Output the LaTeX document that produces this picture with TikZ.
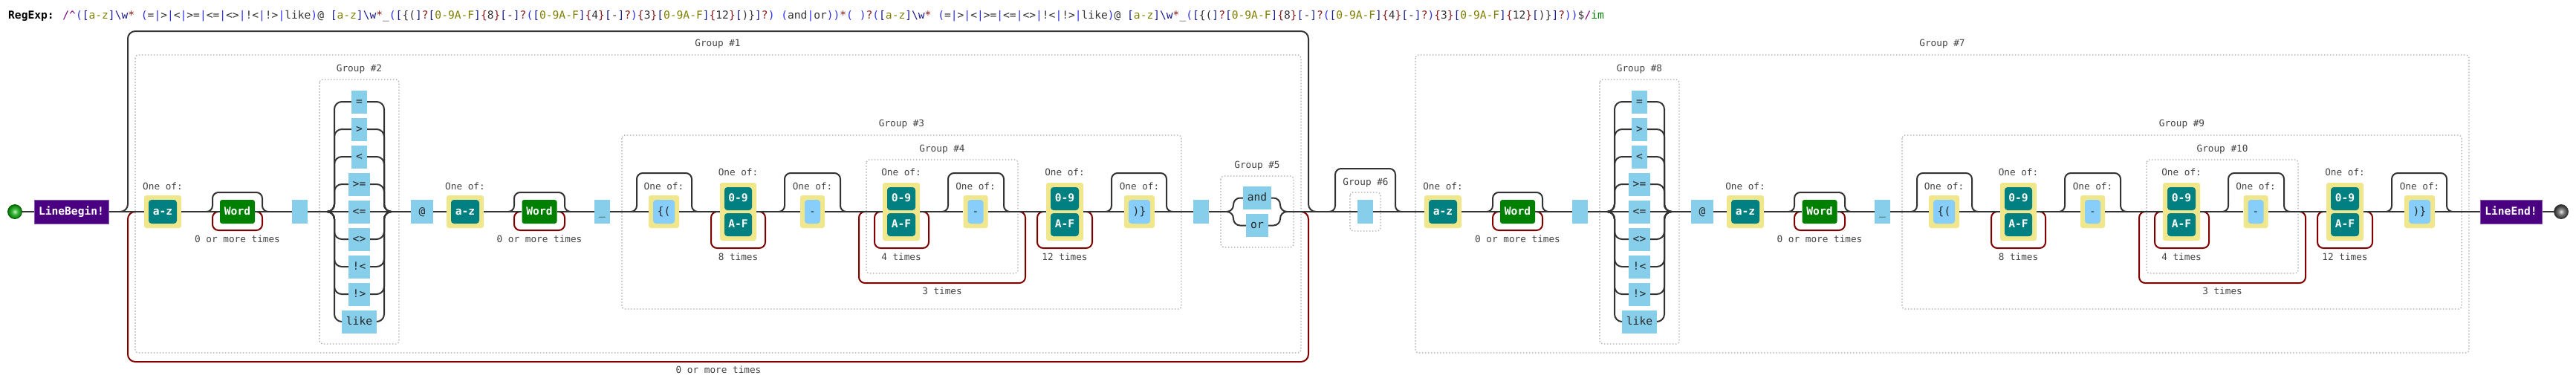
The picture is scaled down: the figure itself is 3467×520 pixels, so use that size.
\documentclass[tikz,border=0pt]{standalone}
\usepackage{fontspec}
\setmainfont{DejaVu Sans Mono}
\usetikzlibrary{calc}

\definecolor{lc}{HTML}{333333}
\definecolor{loopc}{HTML}{800000}
\definecolor{grpc}{HTML}{A8A8A8}
\definecolor{litc}{HTML}{87CEEB}
\definecolor{chc}{HTML}{87CEFA}
\definecolor{clsc}{HTML}{F0E68C}
\definecolor{rngc}{HTML}{008080}
\definecolor{wordc}{HTML}{008000}
\definecolor{asrtc}{HTML}{4B0082}
\definecolor{lblc}{HTML}{444444}
\definecolor{rxslash}{HTML}{800080}
\definecolor{rxparen}{HTML}{3030F0}
\definecolor{rxbrack}{HTML}{1A1A8C}
\definecolor{rxrange}{HTML}{808000}
\definecolor{rxquant}{HTML}{8B1A1A}
\definecolor{rxlit}{HTML}{333333}
\definecolor{rxflag}{HTML}{008000}

\pgfdeclareradialshading{stsh}{\pgfpointorigin}{rgb(0bp)=(0.75,0.95,0.75); rgb(10bp)=(0.25,0.72,0.25); rgb(25bp)=(0.0,0.45,0.0); rgb(50bp)=(0.0,0.45,0.0)}
\pgfdeclareradialshading{ensh}{\pgfpointorigin}{rgb(0bp)=(0.92,0.92,0.92); rgb(10bp)=(0.5,0.5,0.5); rgb(25bp)=(0.15,0.15,0.15); rgb(50bp)=(0.15,0.15,0.15)}

\newcommand\fsz[1]{\fontsize{#1}{#1}\selectfont}
\newcommand\rxS[1]{\textcolor{rxslash}{#1}}
\newcommand\rxP[1]{\textcolor{rxparen}{#1}}
\newcommand\rxB[1]{\textcolor{rxbrack}{#1}}
\newcommand\rxR[1]{\textcolor{rxrange}{#1}}
\newcommand\rxQ[1]{\textcolor{rxquant}{#1}}
\newcommand\rxL[1]{\textcolor{rxlit}{#1}}
\newcommand\rxF[1]{\textcolor{rxflag}{#1}}
\newcommand\rxhead{\rxB{[}\rxR{a-z}\rxB{]\textbackslash w}\rxQ{*}\rxL{\ }\rxP{(}\rxL{=}\rxP{|}\rxL{>}\rxP{|}\rxL{<}\rxP{|}\rxL{>=}\rxP{|}\rxL{<=}\rxP{|}\rxL{<>}\rxP{|}\rxL{!<}\rxP{|}\rxL{!>}\rxP{|}\rxL{like}\rxP{)}\rxL{@\ }\rxB{[}\rxR{a-z}\rxB{]\textbackslash w}\rxQ{*}\rxL{\_}}
\newcommand\rxgrp{\rxP{(}\rxB{[}\rxL{\{(}\rxB{]}\rxQ{?}\rxB{[}\rxR{0-9A-F}\rxB{]}\rxQ{\{}\rxL{8}\rxQ{\}}\rxB{[}\rxL{-}\rxB{]}\rxQ{?}\rxP{(}\rxB{[}\rxR{0-9A-F}\rxB{]}\rxQ{\{}\rxL{4}\rxQ{\}}\rxB{[}\rxL{-}\rxB{]}\rxQ{?}\rxP{)}\rxQ{\{}\rxL{3}\rxQ{\}}\rxB{[}\rxR{0-9A-F}\rxB{]}\rxQ{\{}\rxL{12}\rxQ{\}}\rxB{[}\rxL{)\}}\rxB{]}\rxQ{?}\rxP{)}}

\tikzset{
  rail/.style={draw=lc, line width=2pt},
  ralt/.style={draw=lc, line width=2pt, rounded corners=10pt},
  rskip/.style={draw=lc, line width=2pt, rounded corners=8pt},
  rloop/.style={draw=loopc, line width=2pt, rounded corners=8pt},
  grp/.style={draw=grpc, line width=1.2pt, dash pattern=on 1.5pt off 2.5pt, rounded corners=4pt},
  lbl/.style={text=lblc, font=\fsz{12.7}, inner sep=0pt, text height=9.5pt, text depth=2.5pt},
  boxbase/.style={inner sep=0pt, minimum height=32pt, font=\fsz{14.6}, text height=11.5pt, text depth=3pt},
  lit/.style={boxbase, fill=litc, text=black!85},
  cls/.style={inner sep=0pt, fill=clsc, rounded corners=3pt, minimum height=44pt},
  rng/.style={boxbase, fill=rngc, text=white, font=\fsz{14.6}\bfseries, rounded corners=4pt},
  chr/.style={boxbase, fill=chc, text=black!85, rounded corners=4pt},
  wordbox/.style={boxbase, fill=wordc, text=white, font=\fsz{14.6}\bfseries, rounded corners=3pt},
  asrt/.style={boxbase, fill=asrtc, draw=asrtc!65!white, line width=1pt, text=white, font=\fsz{14.6}\bfseries},
}

% the repeated block: a-z, Word, space, group of operators, @, a-z, Word, _, GUID group
\newcommand{\rxblock}[5]{%
\begin{scope}[xshift=#1pt]
\coordinate (#2in) at (182,285);
% one of a-z
\node[cls, minimum width=50pt] (#2oaz) at (219,285) {};
\node[rng, minimum width=38pt] (#2az) at (219,285) {a-z};
\node[lbl] (#2oazl) at (219,252) {One of:};
% Word*
\node[wordbox, minimum width=47pt] (#2w) at (319.5,285) {Word};
\node[lbl] (#2wl) at (319.5,323) {0 or more times};
\draw[rskip] (278,285) -- (286,285) -- (286,259) -- (353,259) -- (353,285) -- (361,285);
\draw[rloop] (294,285) -- (286,285) -- (286,310) -- (353,310) -- (353,285) -- (345,285);
% space
\node[lit, minimum width=21pt] (#2sp) at (403.5,285) {};
% operator group
\draw[grp] (430,107) rectangle (537,463);
\node[lbl] (#2g2l) at (483.5,93) {Group \##3};
\coordinate (#2g2a) at (440,285);
\coordinate (#2g2b) at (527,285);
\node[lit, minimum width=21pt, minimum height=31pt] (#2e1) at (483.5,137) {=};
\node[lit, minimum width=21pt, minimum height=31pt] (#2e2) at (483.5,174) {>};
\node[lit, minimum width=21pt, minimum height=31pt] (#2e3) at (483.5,211) {<};
\node[lit, minimum width=29pt, minimum height=31pt] (#2e4) at (483.5,248) {>=};
\node[lit, minimum width=29pt, minimum height=31pt] (#2e5) at (483.5,285) {<=};
\node[lit, minimum width=29pt, minimum height=31pt] (#2e6) at (483.5,322) {<>};
\node[lit, minimum width=29pt, minimum height=31pt] (#2e7) at (483.5,359) {!<};
\node[lit, minimum width=29pt, minimum height=31pt] (#2e8) at (483.5,396) {!>};
\node[lit, minimum width=47pt, minimum height=31pt] (#2e9) at (483.5,433) {like};
\foreach \n/\yy in {1/137,2/174,3/211,4/248,6/322,7/359,8/396,9/433}{
  \draw[ralt] (#2g2a) -- (450,285) -- (450,\yy) -- (#2e\n.west);
  \draw[ralt] (#2e\n.east) -- (517,\yy) -- (517,285) -- (#2g2b);
}
\draw[rail] (#2g2a) -- (#2e5.west);
\draw[rail] (#2e5.east) -- (#2g2b);
% @
\node[lit, minimum width=30pt] (#2at) at (568,285) {@};
% one of a-z
\node[cls, minimum width=50pt] (#2obz) at (626,285) {};
\node[rng, minimum width=38pt] (#2bz) at (626,285) {a-z};
\node[lbl] (#2obzl) at (626,252) {One of:};
% Word*
\node[wordbox, minimum width=47pt] (#2wb) at (726,285) {Word};
\node[lbl] (#2wbl) at (726,323) {0 or more times};
\draw[rskip] (684,285) -- (692,285) -- (692,259) -- (760,259) -- (760,285) -- (768,285);
\draw[rloop] (700,285) -- (692,285) -- (692,310) -- (760,310) -- (760,285) -- (752,285);
% _
\node[lit, minimum width=21pt] (#2us) at (810.5,285) {\_};
% GUID group
\draw[grp] (837,182) rectangle (1590,416);
\node[lbl] (#2g3l) at (1213.5,167) {Group \##4};
\coordinate (#2g3a) at (837,285);
\coordinate (#2g3b) at (1590,285);
% optional {(
\node[cls, minimum width=41pt] (#2ob) at (893.5,285) {};
\node[chr, minimum width=29pt] (#2b) at (893.5,285) {\{(};
\node[lbl] (#2obl) at (893.5,252) {One of:};
\draw[rskip] (849,285) -- (857,285) -- (857,233) -- (931,233) -- (931,285) -- (939,285);
% hex {8}
\node[cls, minimum width=49pt, minimum height=78pt] (#2h8) at (993.5,285) {};
\node[rng, minimum width=37pt, minimum height=31pt] (#2h8a) at (993.5,267.5) {0-9};
\node[rng, minimum width=37pt, minimum height=31pt] (#2h8b) at (993.5,302.5) {A-F};
\node[lbl] (#2h8l) at (993.5,233) {One of:};
\node[lbl] (#2h8t) at (993.5,347) {8 times};
\draw[rloop] (965,285) -- (957,285) -- (957,334) -- (1030,334) -- (1030,285) -- (1022,285);
% optional -
\node[cls, minimum width=33pt] (#2od1) at (1093.5,285) {};
\node[chr, minimum width=21pt] (#2d1) at (1093.5,285) {-};
\node[lbl] (#2od1l) at (1093.5,252) {One of:};
\draw[rskip] (1048,285) -- (1056,285) -- (1056,233) -- (1131,233) -- (1131,285) -- (1139,285);
% inner group x3
\draw[grp] (1166,215) rectangle (1370,368);
\node[lbl] (#2g4l) at (1268,201) {Group \##5};
\draw[rloop] (1164,285) -- (1156,285) -- (1156,381) -- (1380,381) -- (1380,285) -- (1372,285);
\node[lbl] (#2g4t) at (1268,393) {3 times};
\node[cls, minimum width=50pt, minimum height=78pt] (#2h4) at (1213,285) {};
\node[rng, minimum width=38pt, minimum height=31pt] (#2h4a) at (1213,267.5) {0-9};
\node[rng, minimum width=38pt, minimum height=31pt] (#2h4b) at (1213,302.5) {A-F};
\node[lbl] (#2h4l) at (1213,233) {One of:};
\node[lbl] (#2h4t) at (1213,347) {4 times};
\draw[rloop] (1185,285) -- (1177,285) -- (1177,334) -- (1250,334) -- (1250,285) -- (1242,285);
\node[cls, minimum width=33pt] (#2od2) at (1313,285) {};
\node[chr, minimum width=21pt] (#2d2) at (1313,285) {-};
\node[lbl] (#2od2l) at (1313,252) {One of:};
\draw[rskip] (1268,285) -- (1276,285) -- (1276,233) -- (1351,233) -- (1351,285) -- (1359,285);
% hex {12}
\node[cls, minimum width=50pt, minimum height=78pt] (#2h12) at (1433,285) {};
\node[rng, minimum width=38pt, minimum height=31pt] (#2h12a) at (1433,267.5) {0-9};
\node[rng, minimum width=38pt, minimum height=31pt] (#2h12b) at (1433,302.5) {A-F};
\node[lbl] (#2h12l) at (1433,233) {One of:};
\node[lbl] (#2h12t) at (1433,347) {12 times};
\draw[rloop] (1404,285) -- (1396,285) -- (1396,334) -- (1470,334) -- (1470,285) -- (1462,285);
% optional )}
\node[cls, minimum width=41pt] (#2oe) at (1533.5,285) {};
\node[chr, minimum width=29pt] (#2ce) at (1533.5,285) {)\}};
\node[lbl] (#2oel) at (1533.5,252) {One of:};
\draw[rskip] (1488,285) -- (1496,285) -- (1496,233) -- (1570,233) -- (1570,285) -- (1578,285);
% main line
\draw[rail] (#2in) -- (#2oaz.west);
\draw[rail] (#2oaz.east) -- (#2w.west);
\draw[rail] (#2w.east) -- (#2sp.west);
\draw[rail] (#2sp.east) -- (#2g2a);
\draw[rail] (#2g2b) -- (#2at.west);
\draw[rail] (#2at.east) -- (#2obz.west);
\draw[rail] (#2obz.east) -- (#2wb.west);
\draw[rail] (#2wb.east) -- (#2us.west);
\draw[rail] (#2us.east) -- (#2ob.west);
\draw[rail] (#2ob.east) -- (#2h8.west);
\draw[rail] (#2h8.east) -- (#2od1.west);
\draw[rail] (#2od1.east) -- (#2h4.west);
\draw[rail] (#2h4.east) -- (#2od2.west);
\draw[rail] (#2od2.east) -- (#2h12.west);
\draw[rail] (#2h12.east) -- (#2oe.west);
\draw[rail] (#2oe.east) -- (#2g3b);
\end{scope}}

\begin{document}
\begin{tikzpicture}[x=1pt, y=-1pt]
\useasboundingbox (0,0) rectangle (3467,520);
\fill[white] (0,0) rectangle (3467,520);

% title
\node[anchor=west, inner sep=0pt, font=\fsz{14.6}, text height=11pt, text depth=3pt] (title) at (11,21)
 {\textbf{RegExp:} \rxS{/\textasciicircum}\rxP{(}\rxhead\rxgrp\rxL{\ }\rxP{(}\rxL{and}\rxP{|}\rxL{or}\rxP{))}\rxQ{*}\rxP{(}\rxL{\ }\rxP{)}\rxQ{?}\rxP{(}\rxhead\rxgrp\rxP{)}\rxL{\$}\rxS{/}\rxF{im}};

% start
\node[circle, minimum size=19pt, inner sep=0pt, shade, shading=stsh, draw=green!35!black, line width=0.8pt] (st) at (20,285) {};
\node[asrt, minimum width=100pt] (lb) at (96,285) {LineBegin!};
\draw[rail] (st) -- (lb);

% group 1 with its 0-or-more loop
\draw[grp] (182,74) rectangle (1751,475);
\node[lbl] (g1l) at (966,59) {Group \#1};
\draw[rskip, rounded corners=10pt] (162,285) -- (172,285) -- (172,42) -- (1761,42) -- (1761,285) -- (1771,285);
\draw[rloop, rounded corners=10pt] (182,285) -- (172,285) -- (172,487) -- (1761,487) -- (1761,285) -- (1751,285);
\node[lbl] (g1t) at (967,499) {0 or more times};

\rxblock{0}{A}{2}{3}{4}
\draw[rail] (lb.east) -- (Ain);

% space and group 5
\node[lit, minimum width=21pt] (sp5) at (1616.5,285) {};
\draw[grp] (1643,237) rectangle (1741,333);
\node[lbl] (g5l) at (1692,223) {Group \#5};
\coordinate (g5a) at (1651,285);
\coordinate (g5b) at (1732,285);
\node[lit, minimum width=38pt, minimum height=31pt] (g5and) at (1692,266.5) {and};
\node[lit, minimum width=30pt, minimum height=31pt] (g5or) at (1692,303.5) {or};
\draw[ralt, rounded corners=9pt] (g5a) -- (1660,285) -- (1660,266.5) -- (g5and.west);
\draw[ralt, rounded corners=9pt] (g5and.east) -- (1723,266.5) -- (1723,285) -- (g5b);
\draw[ralt, rounded corners=9pt] (g5a) -- (1660,285) -- (1660,303.5) -- (g5or.west);
\draw[ralt, rounded corners=9pt] (g5or.east) -- (1723,303.5) -- (1723,285) -- (g5b);
\coordinate (g1out) at (1751,285);
\draw[rail] (Ag3b) -- (sp5.west);
\draw[rail] (sp5.east) -- (g5a);
\draw[rail] (g5b) -- (g1out);

% group 6 (optional space)
\draw[grp] (1817,259) rectangle (1858,311);
\node[lbl] (g6l) at (1838,246) {Group \#6};
\node[lit, minimum width=21pt] (sp6) at (1837.5,285) {};
\draw[rskip] (1789,285) -- (1797,285) -- (1797,227) -- (1878,227) -- (1878,285) -- (1886,285);
\draw[rail] (g1out) -- (sp6.west);

% group 7
\draw[grp] (1905,74) rectangle (3323,475);
\node[lbl] (g7l) at (2614,59) {Group \#7};
\rxblock{1723}{B}{8}{9}{10}
\draw[rail] (sp6.east) -- (Bin);
\coordinate (g7out) at (3323,285);

% end
\node[asrt, minimum width=83pt] (le) at (3379.5,285) {LineEnd!};
\node[circle, minimum size=19pt, inner sep=0pt, shade, shading=ensh, draw=black!80, line width=0.8pt] (en) at (3447,285) {};
\draw[rail] (Bg3b) -- (g7out);
\draw[rail] (g7out) -- (le.west);
\draw[rail] (le.east) -- (en);
\end{tikzpicture}
\end{document}
